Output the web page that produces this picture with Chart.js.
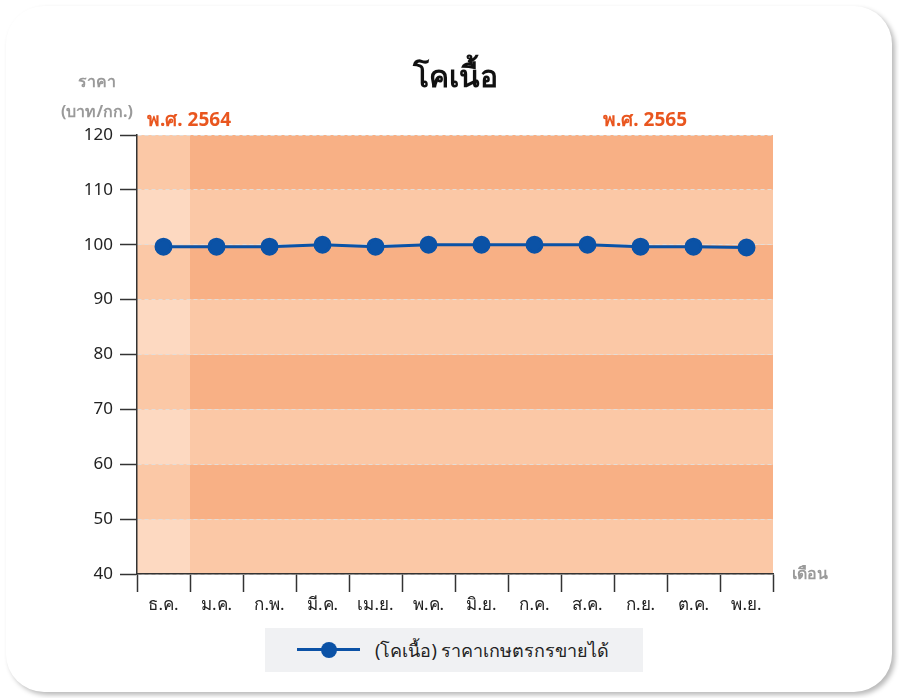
<!DOCTYPE html>
<html>
<head>
<meta charset="utf-8">
<script src="https://cdn.jsdelivr.net/npm/chart.js@4"></script>
<style>
    html, body { margin: 0; padding: 0; background: #fff; }
    #wrap { position: relative; width: 899px; height: 698px; overflow: hidden; }
    #card {
        position: absolute; left: 6px; top: 6px; width: 886px; height: 686px;
        background: #fff; border-radius: 38px;
        box-shadow: 3px 3px 5px rgba(0, 0, 0, 0.28);
    }
    #chart { position: absolute; left: 0; top: 0; }
    #legend {
        position: absolute; left: 265px; top: 628px; width: 378px; height: 44px;
        background: #f0f1f3; font-family: 'Noto Sans', sans-serif; font-size: 18px; color: #222;
    }
    #legend .sym { position: absolute; left: 32px; top: 20px; width: 63px; height: 3px; background: #0b52a6; }
    #legend .dot { position: absolute; left: 56px; top: 14px; width: 16px; height: 16px; border-radius: 50%; background: #0b52a6; }
    #legend .txt { position: absolute; left: 110px; top: 8px; white-space: nowrap; }
</style>
</head>
<body>
<div id="wrap">
    <div id="card"></div>
    <canvas id="chart" width="899" height="698"></canvas>
    <div id="legend"><div class="sym"></div><div class="dot"></div><div class="txt"></div></div>
</div>
<script>
// chart data
const months = ['ธ.ค.', 'ม.ค.', 'ก.พ.', 'มี.ค.', 'เม.ย.', 'พ.ค.', 'มิ.ย.', 'ก.ค.', 'ส.ค.', 'ก.ย.', 'ต.ค.', 'พ.ย.'];
const prices = [99.65, 99.65, 99.65, 100, 99.65, 100, 100, 100, 100, 99.65, 99.65, 99.5];
const seriesLabel = '(โคเนื้อ) ราคาเกษตรกรขายได้';
const chartTitle = 'โคเนื้อ';
const yearLabels = ['พ.ศ. 2564', 'พ.ศ. 2565'];
const yTitle = ['ราคา', '(บาท/กก.)'];
const xTitle = 'เดือน';

const FONT = "'Noto Sans', sans-serif";

/**
 * Draws the striped background, titles and year labels.
 */
const decorPlugin = {
    id: 'decor',
    beforeDraw: (chart) => {
        const ctx = chart.ctx;
        const area = chart.chartArea;
        const y = chart.scales.y;
        const x = chart.scales.x;
        const ticks = y.ticks.map(t => t.value);
        const firstRight = (x.getPixelForValue(0) + x.getPixelForValue(1)) / 2;

        ctx.save();
        for (let i = 0; i < ticks.length - 1; i++) {
            const top = y.getPixelForValue(ticks[i + 1]);
            const bottom = y.getPixelForValue(ticks[i]);
            const dark = (i % 2 == 0) ? false : true;
            ctx.fillStyle = dark ? '#f8b085' : '#fbc8a6';
            ctx.fillRect(area.left, top, area.right - area.left, bottom - top);
            ctx.fillStyle = dark ? '#fbc8a6' : '#fdd9c1';
            ctx.fillRect(area.left, top, firstRight - area.left, bottom - top);
        }

        ctx.fillStyle = '#111';
        ctx.font = 'bold 30px ' + FONT;
        ctx.textAlign = 'center';
        ctx.textBaseline = 'middle';
        ctx.fillText(chartTitle, (area.left + area.right) / 2, 78);

        ctx.fillStyle = '#9a9a9a';
        ctx.font = 'bold 16px ' + FONT;
        ctx.fillText(yTitle[0], 97, 82);
        ctx.fillText(yTitle[1], 97, 112);
        ctx.fillText(xTitle, 810, 574);

        ctx.fillStyle = '#e9561f';
        ctx.font = 'bold 19px ' + FONT;
        ctx.textAlign = 'left';
        ctx.fillText(yearLabels[0], area.left + 10, 121);
        ctx.fillText(yearLabels[1], 603, 121);
        ctx.restore();
    }
};

const chart = new Chart(document.getElementById('chart'), {
    type: 'line',
    data: {
        labels: months,
        datasets: [{
            label: seriesLabel,
            data: prices,
            borderColor: '#0b52a6',
            backgroundColor: '#0b52a6',
            borderWidth: 3,
            pointRadius: 7.5,
            pointHoverRadius: 7.5,
            tension: 0
        }]
    },
    options: {
        responsive: false,
        animation: false,
        layout: { padding: { left: 0, right: 126, top: 135, bottom: 74 } },
        plugins: {
            legend: { display: false },
            tooltip: { enabled: false }
        },
        scales: {
            x: {
                offset: true,
                grid: { offset: true, drawOnChartArea: false, tickLength: 18, tickColor: '#333', tickWidth: 1.5 },
                border: { color: '#333', width: 1.5 },
                ticks: { color: '#222', font: { family: FONT, size: 17 }, padding: 3, maxRotation: 0, autoSkip: false },
                afterFit: (scale) => { scale.height = 50; }
            },
            y: {
                min: 40,
                max: 120,
                ticks: { stepSize: 10, color: '#222', font: { family: FONT, size: 17 }, padding: 7 },
                grid: { color: '#e3ddd8', lineWidth: 1, tickLength: 17, tickColor: '#333', tickWidth: 1.5 },
                border: { color: '#333', width: 1.5, dash: [4, 3] },
                afterFit: (scale) => { scale.width = 137; }
            }
        }
    },
    plugins: [decorPlugin]
});

document.querySelector('#legend .txt').textContent = seriesLabel;
</script>
</body>
</html>
